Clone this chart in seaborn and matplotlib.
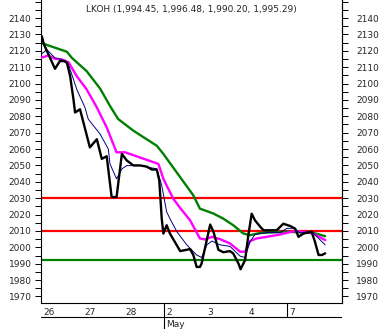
import matplotlib
matplotlib.use("Agg")
import matplotlib.pyplot as plt
import seaborn as sns
import pandas as pd
from matplotlib.ticker import MultipleLocator, FuncFormatter
from matplotlib.transforms import ScaledTranslation

# ---------------- data (x in trading-day units from Apr 26) ----------------
day_labels = ["26", "27", "28", "2", "3", "4", "7"]
month_label = "May"
month_start_idx = 3      # "2" May
week_start_idx = 6       # "7"

title_values = [1994.45, 1996.48, 1990.20, 1995.29]
ticker = "LKOH"

price_x = [0.02, 0.07, 0.34, 0.46, 0.57, 0.63, 0.71, 0.79, 0.83, 0.95, 1.19, 1.36, 1.48, 1.60,
           1.72, 1.84, 1.97, 2.09, 2.25, 2.41, 2.57, 2.70, 2.82, 2.88, 2.94, 2.98, 3.06, 3.14,
           3.39, 3.63, 3.71, 3.79, 3.87, 3.91, 4.12, 4.20, 4.32, 4.44, 4.60, 4.68, 4.81, 4.86,
           4.97, 5.05, 5.13, 5.21, 5.34, 5.42, 5.74, 5.90, 6.07, 6.19, 6.27, 6.39, 6.59, 6.67,
           6.76, 6.84, 6.92]
price_y = [2128.9, 2124.0, 2109.0, 2113.7, 2113.7, 2112.7, 2104.5, 2090.4, 2082.3, 2084.3, 2061.0,
           2066.0, 2054.0, 2055.6, 2030.7, 2030.7, 2057.0, 2053.0, 2050.0, 2050.0, 2049.3, 2047.5,
           2047.5, 2040.8, 2017.5, 2008.4, 2013.5, 2008.4, 1997.7, 1998.9, 1995.3, 1988.0, 1988.0,
           1990.0, 2013.9, 2009.5, 1998.5, 1997.0, 1997.7, 1996.3, 1990.0, 1986.6, 1992.2, 2007.4,
           2020.5, 2016.5, 2012.5, 2010.4, 2010.4, 2014.4, 2013.0, 2011.4, 2006.4, 2008.4, 2009.5,
           2003.5, 1995.3, 1995.3, 1996.3]

slow_x = [0.00, 0.63, 0.75, 1.11, 1.44, 1.68, 1.88, 2.25, 2.82, 2.98, 3.39, 3.71, 3.87, 4.20,
          4.44, 4.68, 4.93, 5.09, 5.34, 5.99, 6.63, 6.92]
slow_y = [2124.8, 2119.4, 2115.7, 2107.6, 2096.9, 2086.3, 2078.3, 2071.2, 2062.0, 2057.0, 2042.8,
          2031.7, 2023.6, 2020.6, 2017.5, 2013.5, 2008.4, 2007.4, 2008.8, 2009.5, 2008.8, 2006.8]

mid_x = [0.00, 0.18, 0.34, 0.50, 0.67, 0.87, 1.11, 1.36, 1.60, 1.84, 2.05, 2.86, 2.98, 3.22,
         3.39, 3.63, 3.87, 4.00, 4.16, 4.36, 4.60, 4.85, 4.97, 5.09, 5.25, 5.50, 5.82, 6.15,
         6.39, 6.63, 6.92]
mid_y = [2115.7, 2117.1, 2115.1, 2114.7, 2113.0, 2104.5, 2096.5, 2085.4, 2073.2, 2058.0, 2058.0,
         2050.9, 2041.8, 2029.7, 2024.0, 2016.5, 2005.4, 2004.8, 2006.4, 2005.0, 2002.4, 1997.3,
         1997.3, 2003.8, 2005.4, 2006.4, 2007.8, 2009.8, 2009.5, 2008.4, 2004.4]

fast_x = [0.00, 0.14, 0.34, 0.50, 0.67, 0.87, 1.07, 1.15, 1.44, 1.64, 1.68, 1.84, 1.97, 2.09,
          2.41, 2.82, 2.94, 3.06, 3.14, 3.31, 3.55, 3.79, 3.91, 4.04, 4.16, 4.36, 4.60, 4.85,
          4.97, 5.09, 5.21, 5.50, 5.82, 5.99, 6.15, 6.31, 6.59, 6.72, 6.92]
fast_y = [2117.7, 2120.7, 2115.7, 2114.7, 2111.6, 2096.5, 2085.4, 2078.3, 2069.1, 2060.0, 2050.9,
          2041.8, 2047.9, 2049.9, 2049.9, 2047.9, 2037.8, 2021.6, 2017.5, 2009.5, 2001.5, 1995.3,
          1993.8, 2001.5, 2003.8, 2001.5, 2000.6, 1994.6, 1993.8, 2003.5, 2007.8, 2009.0, 2009.0,
          2011.6, 2011.6, 2008.8, 2009.8, 2006.4, 2001.5]

red_levels = [2030, 2010]
green_levels = [1992]

# ---------------- figure ----------------
sns.set_style("white")
plt.rcParams["font.family"] = ["DejaVu Sans"]
FS = 6.5

W, H = 383, 329
fig = plt.figure(figsize=(W / 100, H / 100), dpi=100)
left_px, right_px, bottom_px = 41, 342, 303
ax = fig.add_axes([left_px / W, (H - bottom_px) / H, (right_px - left_px) / W, bottom_px / H])
ax2 = fig.add_axes([left_px / W, 0, (right_px - left_px) / W, (H - bottom_px) / H], sharex=ax)

for lv in red_levels:
    ax.axhline(lv, color="#FF0000", lw=1.6, zorder=1)
for lv in green_levels:
    ax.axhline(lv, color="#008000", lw=1.6, zorder=1)

sns.lineplot(x=slow_x, y=slow_y, ax=ax, color="#008000", lw=1.7, estimator=None, zorder=2)
sns.lineplot(x=mid_x, y=mid_y, ax=ax, color="#FF00FF", lw=1.7, estimator=None, zorder=3)
sns.lineplot(x=fast_x, y=fast_y, ax=ax, color="#000080", lw=0.7, estimator=None, zorder=4)
sns.lineplot(x=price_x, y=price_y, ax=ax, color="black", lw=1.7, estimator=None, zorder=5)

ax.set_xlim(0, 7.33)
ax.set_ylim(1966.0, 2151.0)

# y axis (left labels on ax, right labels on twin)
ax.yaxis.set_major_locator(MultipleLocator(10))
ax.yaxis.set_minor_locator(MultipleLocator(5))
fmt = FuncFormatter(lambda v, p: "" if v > 2145 else f"{v:.0f}")
ax.yaxis.set_major_formatter(fmt)
ax.tick_params(axis="y", which="both", left=True, right=False, direction="out",
               length=4.2, width=0.7, color="black", labelsize=FS, pad=2.6)

axr = ax.twinx()
axr.set_ylim(ax.get_ylim())
axr.yaxis.set_major_locator(MultipleLocator(10))
axr.yaxis.set_minor_locator(MultipleLocator(5))
axr.yaxis.set_major_formatter(fmt)
axr.tick_params(axis="y", which="both", right=True, direction="out",
                length=4.2, width=0.7, color="black", labelsize=FS, pad=6.2)
for s in ["top", "left", "bottom"]:
    axr.spines[s].set_visible(False)
axr.spines["right"].set_color("black")
axr.spines["right"].set_linewidth(0.8)
axr.grid(False)

# x axis
ax.set_xticks(range(len(day_labels)))
ax.set_xticklabels(day_labels, ha="left", fontsize=FS)
ax.tick_params(axis="x", direction="out", length=2.5, width=0.7, color="black", pad=0.8)
off = ScaledTranslation(2 / 100, 0, fig.dpi_scale_trans)
for lbl in ax.get_xticklabels():
    lbl.set_transform(lbl.get_transform() + off)
ax.set_xlabel("")
ax.set_ylabel("")
axr.set_ylabel("")

ax.spines["top"].set_visible(False)
for s in ["left", "right", "bottom"]:
    ax.spines[s].set_color("black")
    ax.spines[s].set_linewidth(0.8)
ax.grid(False)

ax.text(0.5, 1 - 9.5 / bottom_px,
        f"{ticker} (" + ", ".join(f"{v:,.2f}" for v in title_values) + ")",
        transform=ax.transAxes, ha="center", va="center", fontsize=FS)

# date band below plot
ax2.set_ylim(0, H - bottom_px)
ax2.axis("off")
band_line = 11.7
ax2.axhline(band_line, color="black", lw=0.8)
ax2.vlines([month_start_idx], 0, H - bottom_px, color="black", lw=0.8)
ax2.vlines([week_start_idx], band_line, H - bottom_px, color="black", lw=0.8)
ax2.text(month_start_idx, 4.2, month_label, fontsize=FS, ha="left", va="center",
         transform=ax2.transData + off)

fig.savefig("out.png", dpi=100, facecolor="white")
